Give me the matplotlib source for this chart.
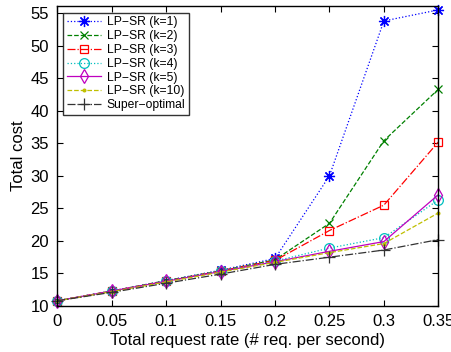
import matplotlib
matplotlib.use("Agg")
import matplotlib.pyplot as plt

plt.rcParams['font.family'] = ['Liberation Sans', 'DejaVu Sans']

rates = [0, 0.05, 0.1, 0.15, 0.2, 0.25, 0.3, 0.35]
k1 = [10.8, 12.3, 13.9, 15.5, 17.3, 30.0, 53.8, 55.5]
k2 = [10.8, 12.3, 13.9, 15.4, 17.1, 22.7, 35.4, 43.3]
k3 = [10.8, 12.3, 13.8, 15.4, 17.0, 21.6, 25.5, 35.2]
k4 = [10.8, 12.3, 13.8, 15.4, 16.9, 18.9, 20.5, 26.3]
k5 = [10.8, 12.3, 13.8, 15.3, 16.8, 18.4, 19.9, 27.1]
k10 = [10.8, 12.2, 13.7, 15.2, 16.7, 18.2, 19.6, 24.3]
sup = [10.8, 12.1, 13.5, 14.9, 16.4, 17.5, 18.6, 20.2]
labels = ['LP\u2212SR (k=1)', 'LP\u2212SR (k=2)', 'LP\u2212SR (k=3)', 'LP\u2212SR (k=4)',
          'LP\u2212SR (k=5)', 'LP\u2212SR (k=10)', 'Super\u2212optimal']
xtick_labels = ['0', '0.05', '0.1', '0.15', '0.2', '0.25', '0.3', '0.35']
yticks = [10, 15, 20, 25, 30, 35, 40, 45, 50, 55]

series = [k1, k2, k3, k4, k5, k10, sup]
styles = [
    dict(color='#0000ff', ls=':', marker=(8, 2, 0), ms=8),
    dict(color='#008000', ls='--', marker='x', ms=6),
    dict(color='#ff0000', ls='-.', marker='s', ms=6, mfc='none'),
    dict(color='#00bfbf', ls=':', marker='o', ms=7, mfc='none'),
    dict(color='#bf00bf', ls='-', marker='d', ms=7.5, mfc='none'),
    dict(color='#bfbf00', ls='--', marker='.', ms=4),
    dict(color='#333333', ls='-.', marker='+', ms=8),
]

fig = plt.figure(figsize=(4.52, 3.52), dpi=100)
ax = fig.add_axes([57.3 / 452, 1 - 306 / 352, (438.3 - 57.3) / 452, 300 / 352])
for s, lab, st in zip(series, labels, styles):
    ax.plot(rates, s, label=lab, lw=0.9, mew=0.9, clip_on=False, **st)

ax.set_xlim(0, 0.35)
ax.set_ylim(10, 56.1)
ax.set_xticks(rates)
ax.set_xticklabels(xtick_labels)
ax.set_yticks(yticks)
ax.tick_params(direction='in', labelsize=12, top=True, right=True, length=4, pad=6)
ax.set_xlabel('Total request rate (# req. per second)', fontsize=12, labelpad=3)
ax.set_ylabel('Total cost', fontsize=12, labelpad=3)
for sp in ax.spines.values():
    sp.set_linewidth(1.0)
leg = ax.legend(loc='upper left', fontsize=8.7, frameon=True, fancybox=False,
                edgecolor='black', borderpad=0.3, labelspacing=0.15,
                handlelength=2.8, handletextpad=0.5, borderaxespad=0,
                bbox_to_anchor=(6 / 381, 1 - 6.7 / 300))
leg.get_frame().set_linewidth(1.0)
fig.savefig('out.png', dpi=100)
